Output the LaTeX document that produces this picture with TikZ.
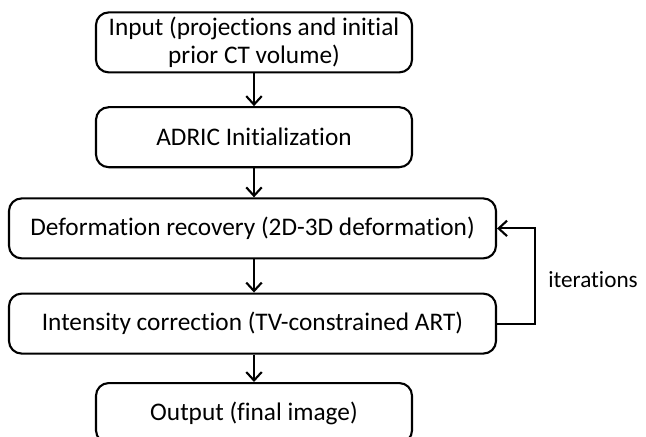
\documentclass[tikz,border=0pt]{standalone}
\usepackage{fontspec}
\setmainfont{Carlito}[Ligatures={NoCommon}]
\usepackage{tikz}
\usetikzlibrary{arrows.meta, positioning, calc}

\begin{document}
\begin{tikzpicture}[
    stage/.style={draw, line width=1.5pt, rounded corners=9pt, minimum width=#1, minimum height=1.5cm, align=center, inner sep=0pt, font=\fontsize{18}{19.5}\selectfont},
    flow/.style={line width=1.5pt, -{Straight Barb[length=6pt, width=11pt, line width=1.5pt]}},
]
    \useasboundingbox (0, 0) rectangle (16.15, -10.925);

    \node[stage=7.9cm] (input) at (6.35, -1.06) {Input (projections and initial\\prior CT volume)};
    \node[stage=7.9cm] (adric) at (6.35, -3.43) {ADRIC Initialization};
    \node[stage=12.175cm] (deform) at (6.3125, -5.71) {Deformation recovery (2D-3D deformation)};
    \node[stage=12.175cm] (intens) at (6.3125, -8.09) {Intensity correction (TV-constrained ART)};
    \node[stage=7.9cm, anchor=north] (output) at (6.35, -9.55) {Output (final image)};

    \node[font=\fontsize{16.5}{19.5}\selectfont, anchor=west, inner sep=0pt] (iter) at (13.7, -7.0) {iterations};

    \draw[flow] (input.south) -- (input.south |- adric.north);
    \draw[flow] (adric.south) -- (adric.south |- deform.north);
    \draw[flow] (adric.south |- deform.south) -- (adric.south |- intens.north);
    \draw[flow] (adric.south |- intens.south) -- (output.north);
    \draw[flow] (intens.east) -- ++(0.95, 0) |- (deform.east);
\end{tikzpicture}
\end{document}
